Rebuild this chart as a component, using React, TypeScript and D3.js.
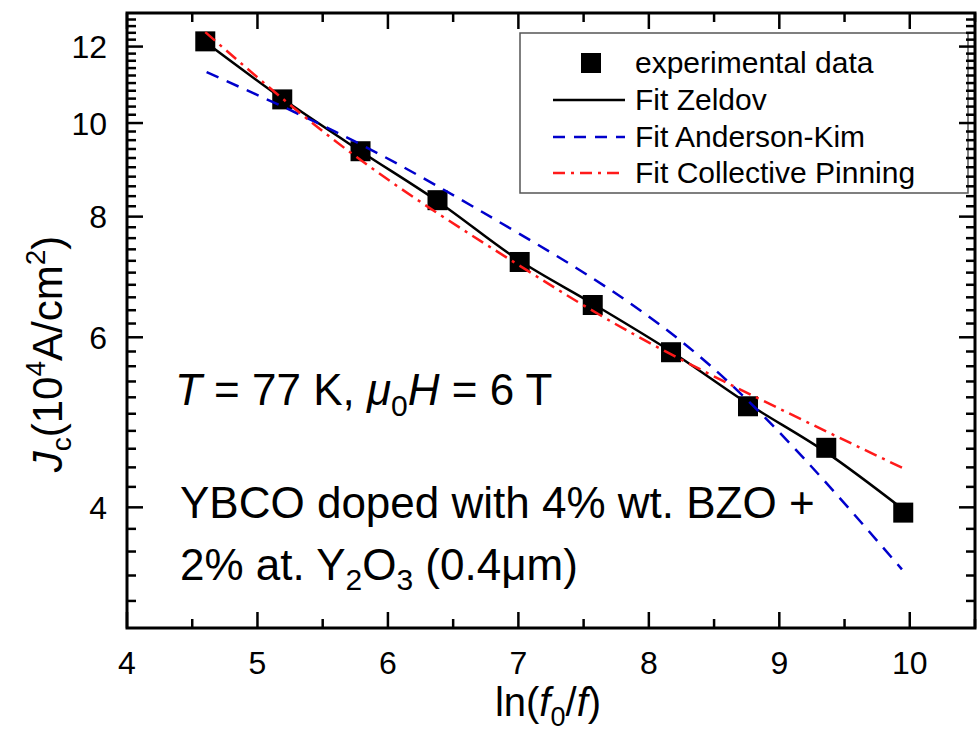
import React from 'react';
import * as d3 from 'd3';

// Experimental data
const lnRatio = [4.6, 5.19, 5.79, 6.38, 7.01, 7.57, 8.17, 8.76, 9.36, 9.95];
const jcData = [12.15, 10.58, 9.35, 8.32, 7.18, 6.48, 5.79, 5.09, 4.61, 3.95];

// Fit Zeldov (black solid)
const zeldovX = [4.6, 5.19, 5.79, 6.38, 7.01, 7.57, 8.17, 8.76, 9.36, 9.95];
const zeldovY = [12.13, 10.6, 9.35, 8.3, 7.2, 6.5, 5.8, 5.12, 4.56, 3.98];

// Fit Anderson-Kim (blue dashed)
const andersonX = [4.61, 5.8, 7.0, 8.45, 9.94];
const andersonY = [11.29, 9.49, 7.69, 5.64, 3.45];

// Fit Collective Pinning (red dash-dot)
const collectiveX = [4.6, 5.76, 7.0, 8.15, 9.95];
const collectiveY = [12.42, 9.22, 7.13, 5.78, 4.39];

// Axis ticks
const xMajorTicks = [4, 5, 6, 7, 8, 9, 10];
const xMinorTicks = [4.5, 5.5, 6.5, 7.5, 8.5, 9.5, 10.5];
const yMajorTicks = [4, 6, 8, 10, 12];
const yMinorTicks = d3.range(16, 66).map((i) => i / 5).filter((v) => !yMajorTicks.includes(v) && v > 3 && v < 13);

const legendLabels = ['experimental data', 'Fit Zeldov', 'Fit Anderson-Kim', 'Fit Collective Pinning'];

const FONT = '"Liberation Sans", Arial, Helvetica, sans-serif';
const BLUE = '#0000cc';
const RED = '#ff1a1a';

export default function App() {
  const W = 978;
  const H = 735;
  const left = 127;
  const right = 975;
  const top = 13;
  const bottom = 628;

  const x = d3.scaleLinear().domain([4, 10.5]).range([left, right]);
  const y = d3.scaleLog().domain([3, 13]).range([bottom, top]);

  const mk = (xs: number[], ys: number[], curve: d3.CurveFactory) =>
    d3
      .line<number>()
      .x((_, i) => x(xs[i]))
      .y((d) => y(d))
      .curve(curve)(ys) as string;

  const majLen = 16;
  const minLen = 9;
  const sq = 20;

  const legendRowsY = [63, 100, 137, 173];

  return (
    <svg
      width={W}
      height={H}
      style={{ position: 'absolute', left: 0, top: 0, background: '#fff' }}
      fontFamily={FONT}
    >
      <rect x={0} y={0} width={W} height={H} fill="#fff" />

      {/* Legend */}
      <rect x={520} y={33} width={448} height={160} fill="#fff" stroke="#555" strokeWidth={1.5} />
      <rect x={591 - sq / 2} y={legendRowsY[0] - sq / 2} width={sq} height={sq} fill="#000" />
      <line x1={553} x2={625} y1={legendRowsY[1]} y2={legendRowsY[1]} stroke="#000" strokeWidth={2.5} />
      <line x1={553} x2={625} y1={legendRowsY[2]} y2={legendRowsY[2]} stroke={BLUE} strokeWidth={2.5} strokeDasharray="12 9" />
      <line x1={553} x2={625} y1={legendRowsY[3]} y2={legendRowsY[3]} stroke={RED} strokeWidth={2.5} strokeDasharray="12 6 3 6" />
      {legendLabels.map((t, i) => (
        <text key={t} x={635} y={legendRowsY[i] + 10} fontSize={30} fill="#000">
          {t}
        </text>
      ))}

      {/* Data squares */}
      {lnRatio.map((v, i) => (
        <rect key={i} x={x(v) - sq / 2} y={y(jcData[i]) - sq / 2} width={sq} height={sq} fill="#000" />
      ))}

      {/* Fit lines */}
      <path d={mk(zeldovX, zeldovY, d3.curveMonotoneX)} fill="none" stroke="#000" strokeWidth={2.5} />
      <path d={mk(andersonX, andersonY, d3.curveNatural)} fill="none" stroke={BLUE} strokeWidth={2.5} strokeDasharray="13 9" />
      <path d={mk(collectiveX, collectiveY, d3.curveNatural)} fill="none" stroke={RED} strokeWidth={2.5} strokeDasharray="13 6 3 6" />

      {/* Ticks */}
      <g stroke="#000" strokeWidth={2.5}>
        {xMajorTicks.map((v) => (
          <g key={'xm' + v}>
            <line x1={x(v)} x2={x(v)} y1={bottom} y2={bottom - majLen} />
            <line x1={x(v)} x2={x(v)} y1={top} y2={top + majLen} />
          </g>
        ))}
        {xMinorTicks.map((v) => (
          <g key={'xn' + v}>
            <line x1={x(v)} x2={x(v)} y1={bottom} y2={bottom - minLen} />
            <line x1={x(v)} x2={x(v)} y1={top} y2={top + minLen} />
          </g>
        ))}
        {yMajorTicks.map((v) => (
          <g key={'ym' + v}>
            <line x1={left} x2={left + majLen} y1={y(v)} y2={y(v)} />
            <line x1={right} x2={right - majLen} y1={y(v)} y2={y(v)} />
          </g>
        ))}
        {yMinorTicks.map((v) => (
          <g key={'yn' + v}>
            <line x1={left} x2={left + minLen} y1={y(v)} y2={y(v)} />
            <line x1={right} x2={right - minLen} y1={y(v)} y2={y(v)} />
          </g>
        ))}
      </g>

      {/* Frame */}
      <rect x={left} y={top} width={right - left} height={bottom - top} fill="none" stroke="#000" strokeWidth={3} />

      {/* Tick labels */}
      {xMajorTicks.map((v) => (
        <text key={'xl' + v} x={x(v)} y={674} fontSize={32} textAnchor="middle" fill="#000">
          {v}
        </text>
      ))}
      {yMajorTicks.map((v) => (
        <text key={'yl' + v} x={107} y={y(v) + 11.5} fontSize={32} textAnchor="end" fill="#000">
          {v}
        </text>
      ))}

      {/* Axis titles */}
      <text x={548} y={716} fontSize={40} textAnchor="middle" fill="#000">
        <tspan>ln(</tspan>
        <tspan fontStyle="italic">f</tspan>
        <tspan fontSize={27} dy={10}>0</tspan>
        <tspan dy={-10}>/</tspan>
        <tspan fontStyle="italic">f</tspan>
        <tspan>)</tspan>
      </text>
      <text transform="translate(62,354) rotate(-90)" fontSize={42} textAnchor="middle" fill="#000">
        <tspan fontStyle="italic">J</tspan>
        <tspan fontSize={28} dy={9}>c</tspan>
        <tspan dy={-9}>(10</tspan>
        <tspan fontSize={28} dy={-17}>4</tspan>
        <tspan dy={17}>A/cm</tspan>
        <tspan fontSize={28} dy={-17}>2</tspan>
        <tspan dy={17}>)</tspan>
      </text>

      {/* Annotations */}
      <text x={175} y={405} fontSize={44} fill="#000">
        <tspan fontStyle="italic">T</tspan>
        <tspan> = 77 K, </tspan>
        <tspan fontStyle="italic">μ</tspan>
        <tspan fontSize={30} dy={11}>0</tspan>
        <tspan fontStyle="italic" dy={-11}>H</tspan>
        <tspan> = 6 T</tspan>
      </text>
      <text x={180} y={518} fontSize={44} fill="#000">
        YBCO doped with 4% wt. BZO +
      </text>
      <text x={180} y={580} fontSize={44} fill="#000">
        <tspan>2% at. Y</tspan>
        <tspan fontSize={30} dy={10}>2</tspan>
        <tspan dy={-10}>O</tspan>
        <tspan fontSize={30} dy={10}>3</tspan>
        <tspan dy={-10}> (0.4μm)</tspan>
      </text>
    </svg>
  );
}
